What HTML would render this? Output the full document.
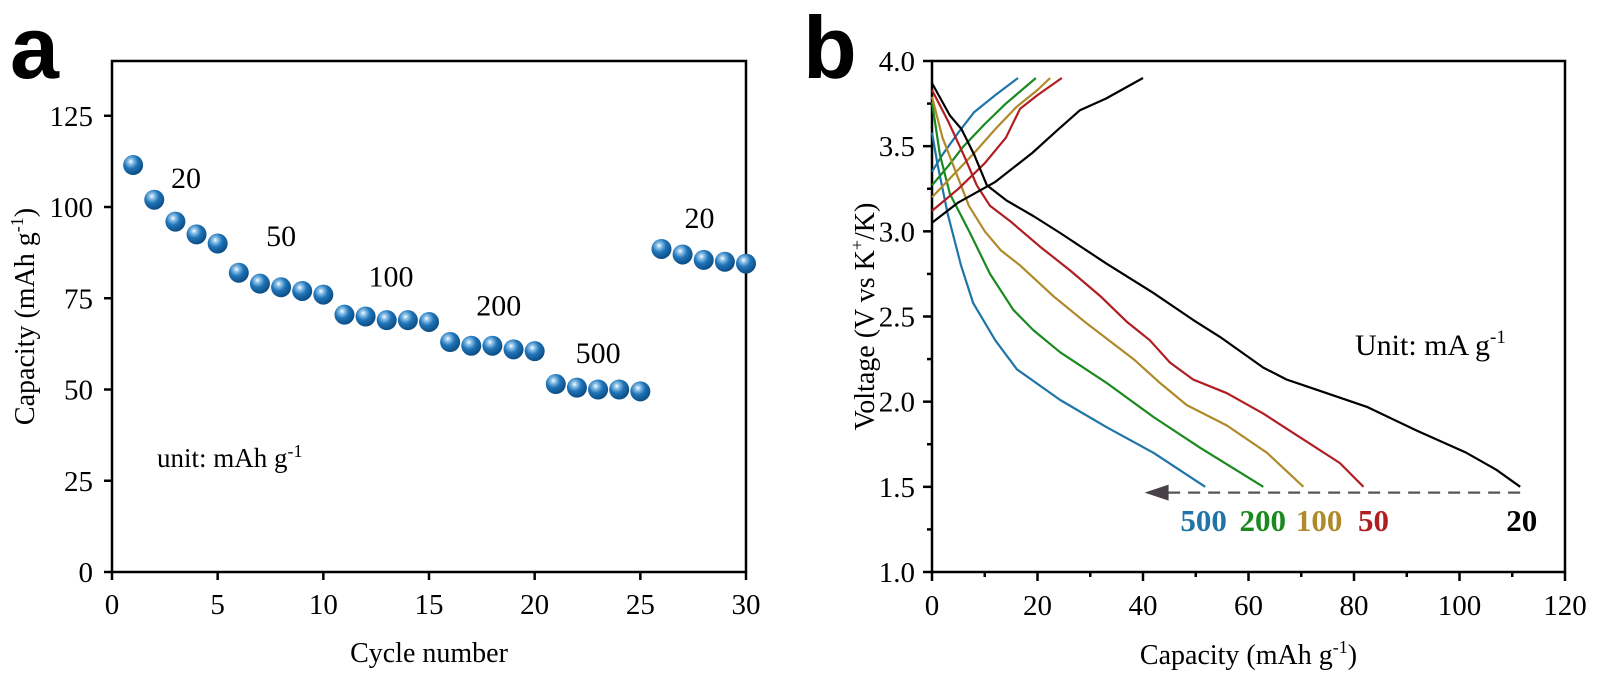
<!DOCTYPE html>
<html><head><meta charset="utf-8"><style>
html,body{margin:0;padding:0;background:#fff;}
svg{display:block;font-family:"Liberation Serif",serif;}
</style></head><body>
<svg id="fig" width="1600" height="689" viewBox="0 0 1600 689">
<defs>
<radialGradient id="ball" cx="0.38" cy="0.33" r="0.7">
<stop offset="0" stop-color="#ffffff"/>
<stop offset="0.18" stop-color="#8fc3ea"/>
<stop offset="0.5" stop-color="#1f74b8"/>
<stop offset="1" stop-color="#0b4a80"/>
</radialGradient>
</defs>
<text x="10" y="78" font-family="Liberation Sans, sans-serif" font-weight="bold" font-size="88">a</text>
<text x="803" y="78" font-family="Liberation Sans, sans-serif" font-weight="bold" font-size="88">b</text>
<g id="pa"></g>
<g id="pb"></g>
</svg>
<script>
// ---- Panel a data ----
const cycles = [1,2,3,4,5,6,7,8,9,10,11,12,13,14,15,16,17,18,19,20,21,22,23,24,25,26,27,28,29,30];
const capacityA = [111.5,102,96,92.5,90,82,79,78,77,76,70.5,70,69,69,68.5,63,62,62,61,60.5,51.5,50.5,50,50,49.5,88.5,87,85.5,85,84.5];
const aXTicks = [0,5,10,15,20,25,30];
const aYTicks = [0,25,50,75,100,125];
const rateLabels = ["20","50","100","200","500","20"];
const rateLabelX = [3.5,8,13.2,18.3,23,27.8];
const rateLabelY = [108,92,81,73,60,97];

// ---- Panel b data ----
const bXTicks = [0,20,40,60,80,100,120];
const bYTicks = [1.0,1.5,2.0,2.5,3.0,3.5,4.0];
const rates = ["500","200","100","50","20"];
const rateColors = ["#1f74a8","#1a8a1f","#b08a2a","#b01e22","#000000"];
const dis500x = [0,1,3,5.5,7.8,12,16.1,24.3,33.1,42,51.8];
const dis500y = [3.58,3.4,3.1,2.8,2.58,2.36,2.19,2.01,1.85,1.7,1.5];
const dis200x = [0,1.5,3.4,7.2,11,15.4,19.2,24.3,33.1,42,50.8,62.8];
const dis200y = [3.76,3.45,3.22,2.99,2.75,2.54,2.42,2.29,2.11,1.91,1.73,1.5];
const dis100x = [0,2,4.5,7,10,13,16.7,23,29.3,38.2,43.2,48.3,55.9,63.5,70.4];
const dis100y = [3.79,3.55,3.35,3.15,3.0,2.89,2.8,2.62,2.46,2.25,2.11,1.98,1.86,1.7,1.5];
const dis50x = [0,3,6,8.5,11,14.8,20.5,26.2,31.9,36.9,41.3,45.1,49.5,55.9,62.8,69.8,77.3,81.8];
const dis50y = [3.83,3.65,3.45,3.27,3.15,3.06,2.91,2.77,2.62,2.47,2.36,2.23,2.13,2.05,1.93,1.79,1.64,1.5];
const dis20x = [0,3.4,5.6,8,10.4,14.2,19.2,24.3,33.1,41.9,49.5,54.6,57.8,62.8,67.2,72.9,82.4,91.9,101.3,107,111.5];
const dis20y = [3.87,3.68,3.6,3.45,3.27,3.18,3.09,2.99,2.81,2.64,2.48,2.38,2.31,2.2,2.13,2.07,1.97,1.83,1.7,1.6,1.5];
const chg500x = [0,2,5,8,12,16.3];
const chg500y = [3.35,3.45,3.58,3.7,3.8,3.9];
const chg200x = [0,3,6,10,14,19.7];
const chg200y = [3.27,3.38,3.5,3.63,3.75,3.9];
const chg100x = [0,4,8,12,16,20,22.4];
const chg100y = [3.2,3.33,3.46,3.6,3.73,3.83,3.9];
const chg50x = [0,5,10,14,16.7,20,24.6];
const chg50y = [3.12,3.25,3.4,3.55,3.72,3.8,3.9];
const chg20x = [0,5,12,19,24,28,33,40];
const chg20y = [3.05,3.17,3.29,3.46,3.6,3.71,3.78,3.9];
const rateLabelBX = [51.5,62.7,73.4,83.7,111.8];
const rateLabelBY = 1.305;
const arrowStart = 111.5, arrowEnd = 40.3, arrowV = 1.466;

const NS = "http://www.w3.org/2000/svg";
function mk(parent, tag, attrs){const e=document.createElementNS(NS,tag);for(const k in attrs)e.setAttribute(k,attrs[k]);parent.appendChild(e);return e;}

// ---- Panel a ----
(function(){
const g=document.getElementById('pa');
const L=112,R=746,T=61,B=572;
const xa=v=>L+(v-0)/(30-0)*(R-L);
const ya=v=>B-(v-0)/(140-0)*(B-T);
const frame=mk(g,'rect',{x:L,y:T,width:R-L,height:B-T,fill:'none',stroke:'#000','stroke-width':2.5});


aXTicks.forEach(t=>{
  const ln=mk(g,'line',{x1:xa(t),x2:xa(t),y1:B,y2:B+8,stroke:'#000','stroke-width':2.5});
  
  
  const tx=mk(g,'text',{x:xa(t),y:B+42,'text-anchor':'middle','font-size':29});
  tx.textContent=t;
  
  
});
aYTicks.forEach(t=>{
  const ln=mk(g,'line',{x1:L-8,x2:L,y1:ya(t),y2:ya(t),stroke:'#000','stroke-width':2.5});
  
  
  const tx=mk(g,'text',{x:L-19,y:ya(t)+10,'text-anchor':'end','font-size':29});
  tx.textContent=t;
  
  
});
const xt=mk(g,'text',{x:(L+R)/2,y:662,'text-anchor':'middle','font-size':28});
xt.textContent='Cycle number';


const yt=mk(g,'text',{x:0,y:0,'text-anchor':'middle','font-size':28,transform:`translate(34,${(T+B)/2}) rotate(-90)`});
yt.innerHTML='Capacity (mAh g<tspan dy="-11" font-size="18">-1</tspan><tspan dy="11">)</tspan>';


cycles.forEach((c,i)=>{
  const p=mk(g,'circle',{cx:xa(c),cy:ya(capacityA[i]),r:10,fill:'url(#ball)'});
  
  
});
rateLabels.forEach((s,i)=>{
  const tx=mk(g,'text',{x:xa(rateLabelX[i]),y:ya(rateLabelY[i])+10,'text-anchor':'middle','font-size':30});
  tx.textContent=s;
  
  
});
const u=mk(g,'text',{x:157,y:467,'font-size':27});
u.innerHTML='unit: mAh g<tspan dy="-10" font-size="18">-1</tspan>';


})();

// ---- Panel b ----
(function(){
const g=document.getElementById('pb');
const L=932,R=1565,T=61,B=572;
const xb=v=>L+(v-0)/(120-0)*(R-L);
const yb=v=>B-(v-1)/(4-1)*(B-T);
const frame=mk(g,'rect',{x:L,y:T,width:R-L,height:B-T,fill:'none',stroke:'#000','stroke-width':2.5});


bXTicks.forEach((t,i)=>{
  const ln=mk(g,'line',{x1:xb(t),x2:xb(t),y1:B,y2:B+9,stroke:'#000','stroke-width':2.5});
  
  
  if(i<bXTicks.length-1){
    const m=mk(g,'line',{x1:xb(t+10),x2:xb(t+10),y1:B,y2:B+5,stroke:'#000','stroke-width':2.5});
    
    
  }
  const tx=mk(g,'text',{x:xb(t),y:B+43,'text-anchor':'middle','font-size':29});
  tx.textContent=t;
  
  
});
bYTicks.forEach((t,i)=>{
  const ln=mk(g,'line',{x1:L-9,x2:L,y1:yb(t),y2:yb(t),stroke:'#000','stroke-width':2.5});
  
  
  if(i<bYTicks.length-1){
    const m=mk(g,'line',{x1:L-5,x2:L,y1:yb(t+0.25),y2:yb(t+0.25),stroke:'#000','stroke-width':2.5});
    
    
  }
  const tx=mk(g,'text',{x:L-17,y:yb(t)+10,'text-anchor':'end','font-size':29});
  tx.textContent=t.toFixed(1);
  
  
});
const xt=mk(g,'text',{x:(L+R)/2,y:664,'text-anchor':'middle','font-size':28});
xt.innerHTML='Capacity (mAh g<tspan dy="-11" font-size="18">-1</tspan><tspan dy="11">)</tspan>';


const yt=mk(g,'text',{x:0,y:0,'text-anchor':'middle','font-size':28,transform:`translate(874,${(T+B)/2}) rotate(-90)`});
yt.innerHTML='Voltage (V vs K<tspan dy="-11" font-size="18">+</tspan><tspan dy="11">/K)</tspan>';


const dis=[[dis500x,dis500y],[dis200x,dis200y],[dis100x,dis100y],[dis50x,dis50y],[dis20x,dis20y]];
const chg=[[chg500x,chg500y],[chg200x,chg200y],[chg100x,chg100y],[chg50x,chg50y],[chg20x,chg20y]];
const path=(xs,ys)=>xs.map((x,i)=>(i?'L':'M')+xb(x).toFixed(1)+','+yb(ys[i]).toFixed(1)).join(' ');
rates.forEach((r,i)=>{
  const d=mk(g,'path',{d:path(dis[i][0],dis[i][1]),fill:'none',stroke:rateColors[i],'stroke-width':2.2,'stroke-linejoin':'round'});
  
  
  const c=mk(g,'path',{d:path(chg[i][0],chg[i][1]),fill:'none',stroke:rateColors[i],'stroke-width':2.2,'stroke-linejoin':'round'});
  
  
  const tx=mk(g,'text',{x:xb(rateLabelBX[i]),y:yb(rateLabelBY)+11,'text-anchor':'middle','font-size':31,'font-weight':'bold',fill:rateColors[i]});
  tx.textContent=r;
  
  
});
const ar=mk(g,'line',{x1:xb(arrowStart),x2:xb(arrowEnd)+18,y1:yb(arrowV),y2:yb(arrowV),stroke:'#555','stroke-width':2.2,'stroke-dasharray':'12,8'});


const ah=mk(g,'polygon',{points:`${xb(arrowEnd)},${yb(arrowV)} ${xb(arrowEnd)+24},${yb(arrowV)-8} ${xb(arrowEnd)+24},${yb(arrowV)+8}`,fill:'#4a4048'});


const u=mk(g,'text',{x:1355,y:355,'font-size':30});
u.innerHTML='Unit: mA g<tspan dy="-12" font-size="19">-1</tspan>';


})();
</script>
</body></html>
